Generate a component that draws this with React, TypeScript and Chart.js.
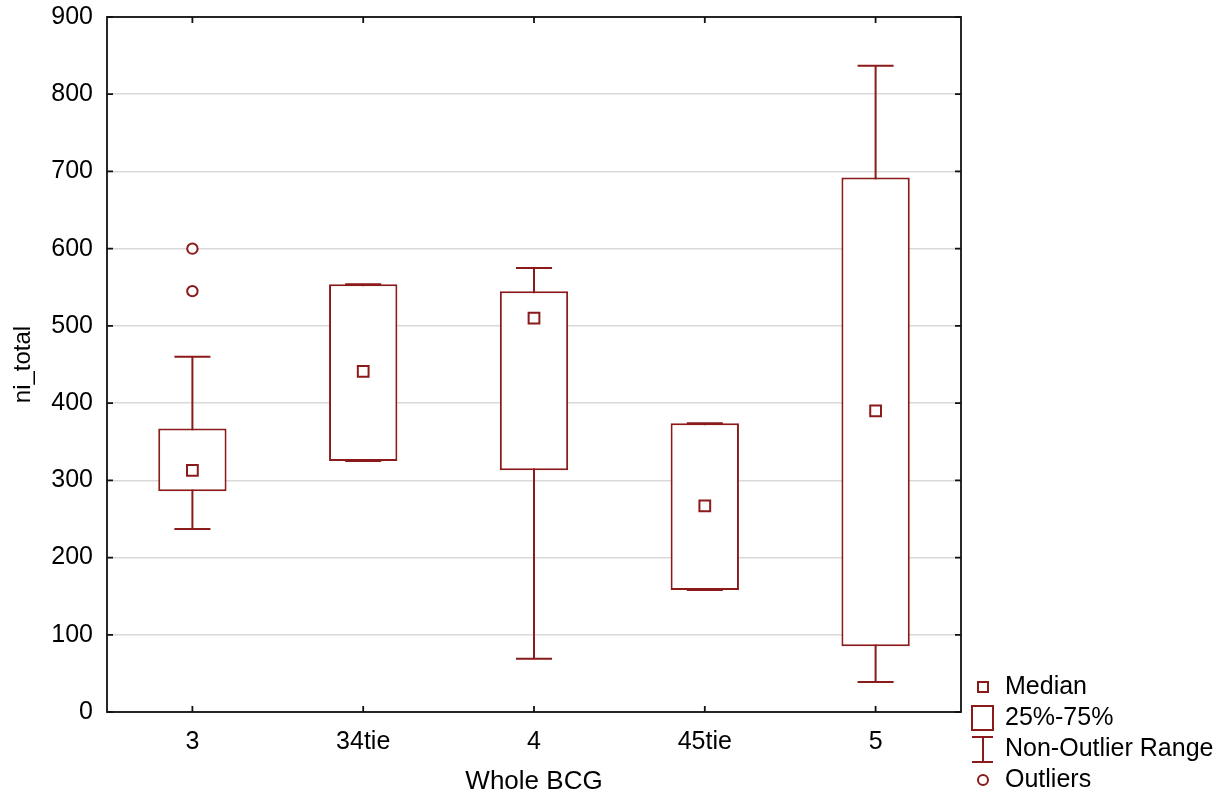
import React, { useEffect, useRef } from 'react';
import { Chart, registerables } from 'chart.js';

Chart.register(...registerables);

const categories = ['3', '34tie', '4', '45tie', '5'];
const q1Values = [286, 325, 313, 158, 85];
const q3Values = [367, 554, 545, 374, 692];
const medianValues = [313, 441, 510, 267, 390];
const whiskerLow = [237, 325, 69, 158, 39];
const whiskerHigh = [460, 554, 575, 374, 837];
const outlierCategories = ['3', '3'];
const outlierValues = [600, 545];
const yMin = 0;
const yMax = 900;
const yStep = 100;
const legendLabels = ['Median', '25%-75%', 'Non-Outlier Range', 'Outliers'];
const xTitle = 'Whole BCG';
const yTitle = 'ni_total';

const RED = '#8b1a1a';
const FONT = '"Liberation Sans", Arial, sans-serif';

const whiskerPlugin = {
  id: 'whiskers',
  beforeDatasetsDraw(chart: any) {
    const { ctx, scales } = chart;
    const xs = scales.x;
    const ys = scales.y;
    ctx.save();
    ctx.strokeStyle = RED;
    ctx.lineWidth = 2;
    const half = 18;
    for (let i = 0; i < categories.length; i++) {
      const x = xs.getPixelForValue(i);
      const yl = ys.getPixelForValue(whiskerLow[i]);
      const yh = ys.getPixelForValue(whiskerHigh[i]);
      ctx.beginPath();
      ctx.moveTo(x, yl);
      ctx.lineTo(x, yh);
      ctx.moveTo(x - half, yl);
      ctx.lineTo(x + half, yl);
      ctx.moveTo(x - half, yh);
      ctx.lineTo(x + half, yh);
      ctx.stroke();
    }
    ctx.restore();
  },
};

const framePlugin = {
  id: 'frame',
  afterDraw(chart: any) {
    const { ctx, chartArea, scales } = chart;
    const { left, right, top, bottom } = chartArea;
    ctx.save();
    ctx.strokeStyle = '#111';
    ctx.lineWidth = 1.8;
    ctx.strokeRect(left, top, right - left, bottom - top);
    const tl = 6;
    ctx.beginPath();
    scales.y.ticks.forEach((t: any) => {
      const y = scales.y.getPixelForValue(t.value);
      ctx.moveTo(left, y);
      ctx.lineTo(left + tl, y);
      ctx.moveTo(right, y);
      ctx.lineTo(right - tl, y);
    });
    for (let i = 0; i < categories.length; i++) {
      const x = scales.x.getPixelForValue(i);
      ctx.moveTo(x, bottom);
      ctx.lineTo(x, bottom - tl);
      ctx.moveTo(x, top);
      ctx.lineTo(x, top + tl);
    }
    ctx.stroke();

    // legend
    const sx = right + 22;
    const tx = right + 44;
    const ys = [bottom - 25, bottom + 6, bottom + 37, bottom + 68];
    ctx.font = `25px ${FONT}`;
    ctx.textBaseline = 'middle';
    ctx.textAlign = 'left';
    ctx.fillStyle = '#000';
    legendLabels.forEach((lab, i) => ctx.fillText(lab, tx, ys[i]));
    ctx.strokeStyle = RED;
    ctx.lineWidth = 2;
    // median
    ctx.strokeRect(sx - 5, ys[0] - 5, 10, 10);
    // box
    ctx.strokeRect(sx - 11, ys[1] - 12, 21, 24);
    // whisker
    ctx.beginPath();
    ctx.moveTo(sx - 11, ys[2] - 12);
    ctx.lineTo(sx + 10, ys[2] - 12);
    ctx.moveTo(sx, ys[2] - 12);
    ctx.lineTo(sx, ys[2] + 13);
    ctx.moveTo(sx - 11, ys[2] + 13);
    ctx.lineTo(sx + 10, ys[2] + 13);
    ctx.stroke();
    // outlier
    ctx.beginPath();
    ctx.arc(sx, ys[3], 5, 0, Math.PI * 2);
    ctx.stroke();
    ctx.restore();
  },
};

export default function App() {
  const ref = useRef<HTMLCanvasElement | null>(null);
  useEffect(() => {
    document.body.style.margin = '0';
    const canvas = ref.current;
    if (!canvas) return;
    const chart = new Chart(canvas, {
      data: {
        labels: categories,
        datasets: [
          {
            type: 'line',
            label: 'Median',
            data: medianValues,
            showLine: false,
            pointStyle: 'rect',
            pointRadius: 7.6,
            pointBorderWidth: 2,
            pointBorderColor: RED,
            pointBackgroundColor: '#fff',
            borderColor: RED,
            backgroundColor: '#fff',
          } as any,
          {
            type: 'line',
            label: 'Outliers',
            data: outlierCategories.map((c, i) => ({ x: c, y: outlierValues[i] })),
            showLine: false,
            pointStyle: 'circle',
            pointRadius: 5.2,
            pointBorderWidth: 2,
            pointBorderColor: RED,
            pointBackgroundColor: '#fff',
            borderColor: RED,
          } as any,
          {
            type: 'bar',
            label: '25%-75%',
            data: q1Values.map((v, i) => [v, q3Values[i]]),
            backgroundColor: '#fff',
            borderColor: RED,
            borderWidth: 2,
            borderSkipped: false,
            barPercentage: 0.4,
            categoryPercentage: 1,
          } as any,
        ],
      },
      options: {
        animation: false,
        responsive: true,
        maintainAspectRatio: false,
        layout: { padding: { left: 0, right: 270, top: 17, bottom: 0 } },
        plugins: {
          legend: { display: false },
          tooltip: { enabled: false },
        },
        scales: {
          x: {
            type: 'category',
            offset: true,
            grid: { display: false, drawTicks: false },
            border: { display: false },
            ticks: { color: '#000', font: { family: FONT, size: 25 }, padding: 15 },
            title: {
              display: true,
              text: xTitle,
              color: '#000',
              font: { family: FONT, size: 26 },
              padding: { top: 0, bottom: 5 },
            },
            afterFit: (s: any) => {
              s.height = 90;
              s.paddingLeft = 0;
              s.paddingRight = 0;
            },
          },
          y: {
            min: yMin,
            max: yMax,
            grid: { color: '#d9d9d9', lineWidth: 1.5, drawTicks: false },
            border: { display: false },
            ticks: {
              stepSize: yStep,
              color: '#000',
              font: { family: FONT, size: 25 },
              padding: 14,
            },
            title: {
              display: true,
              text: yTitle,
              color: '#000',
              font: { family: FONT, size: 24 },
              padding: { top: 9, bottom: 0 },
            },
            afterFit: (s: any) => {
              s.width = 107;
              s.paddingTop = 0;
              s.paddingBottom = 0;
            },
          },
        },
      } as any,
      plugins: [whiskerPlugin, framePlugin],
    });
    return () => chart.destroy();
  }, []);
  return (
    <div style={{ width: 1231, height: 802, position: 'relative', background: '#fff' }}>
      <canvas ref={ref} />
    </div>
  );
}
